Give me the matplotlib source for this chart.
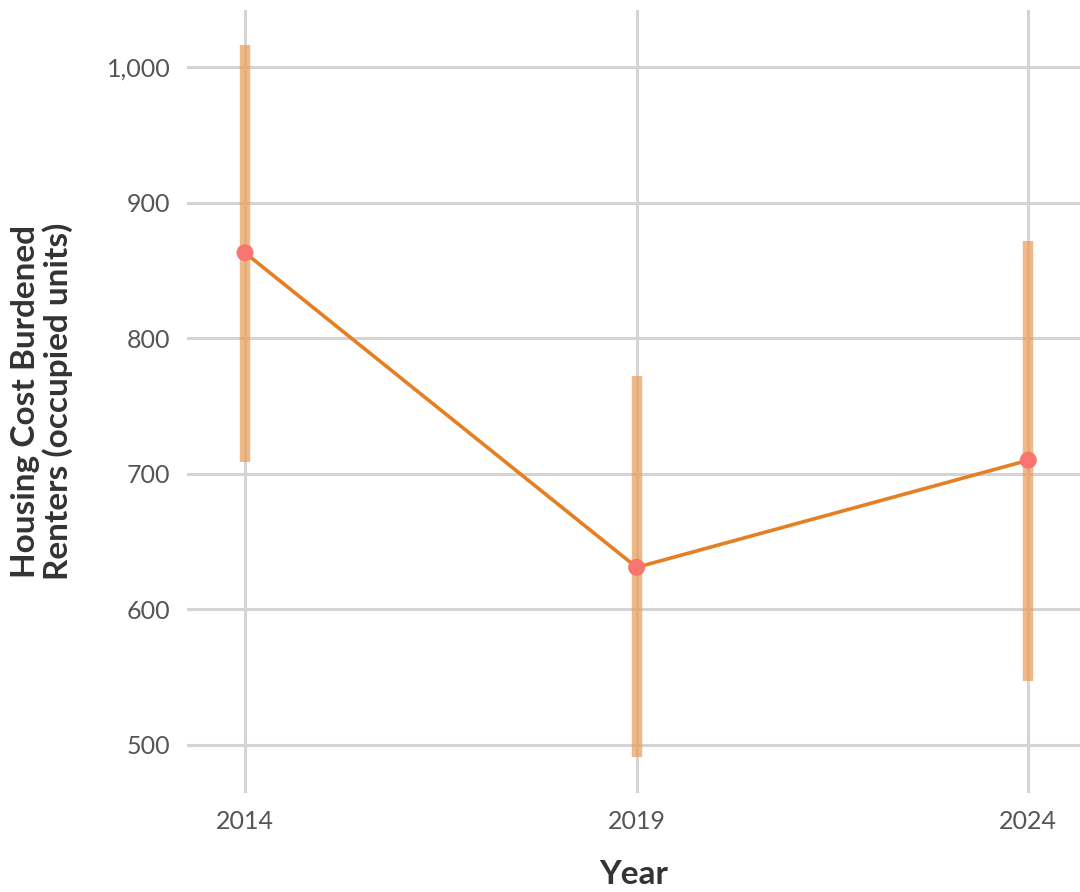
import numpy as np
import matplotlib
matplotlib.use("Agg")
import matplotlib.pyplot as plt
from matplotlib.ticker import FuncFormatter

years = [2014, 2019, 2024]
renters = [863, 631, 710]
lower = [709, 491, 547]
upper = [1016, 772, 872]

plt.rcParams['font.family'] = ['Lato', 'DejaVu Sans']

fig = plt.figure(figsize=(10.8, 8.92), dpi=100)
ax = fig.add_axes([187 / 1080, 1 - 793 / 892, 1 - 187 / 1080, (793 - 10) / 892])

grid_col = "#d4d4d4"
for y in [500, 600, 700, 800, 900, 1000]:
    ax.axhline(y, color=grid_col, lw=2.2, zorder=0)
for x in years:
    ax.axvline(x, color=grid_col, lw=2.2, zorder=0)

# error bars (interval)
ax.vlines(years, lower, upper, color="#eb9a55", alpha=0.7, lw=7.5, zorder=2)
ax.plot(years, renters, color="#e67e22", lw=2.6, zorder=3)
ax.scatter(years, renters, s=150, color="#f8766d", zorder=4, edgecolors="none")

ax.set_xlim(2013.26, 2024.66)
ax.set_ylim(464.6, 1042)
ax.set_xticks(years)
ax.set_yticks([500, 600, 700, 800, 900, 1000])
ax.yaxis.set_major_formatter(FuncFormatter(lambda v, p: f"{int(v):,}"))
ax.tick_params(axis="both", length=0, labelsize=18, labelcolor="#555555", pad=12)
for s in ax.spines.values():
    s.set_visible(False)

ax.set_xlabel("Year", fontsize=24, fontweight="bold", color="#333333")
ax.xaxis.set_label_coords(0.5, -0.086)
ax.set_ylabel("Housing Cost Burdened\nRenters (occupied units)", fontsize=24,
              fontweight="bold", color="#333333", labelpad=24, linespacing=1.1)

fig.savefig("out.png", dpi=100)
